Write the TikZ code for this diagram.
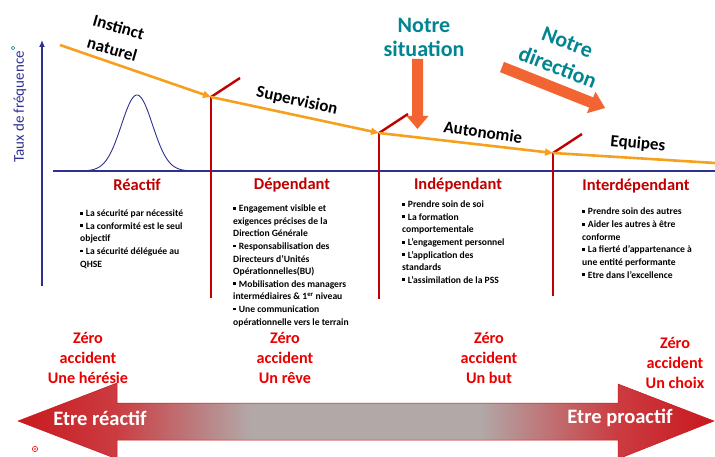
\documentclass[tikz,border=0pt]{standalone}
\usepackage{fontspec}
\setmainfont{Carlito}
\usetikzlibrary{arrows.meta}
\definecolor{axblue}{RGB}{46,49,146}
\definecolor{lineorange}{RGB}{247,160,30}
\definecolor{darkred}{RGB}{192,0,0}
\definecolor{zred}{RGB}{235,0,0}
\definecolor{teal2}{RGB}{0,133,145}
\definecolor{blockorange}{RGB}{242,101,50}
\definecolor{arrred}{RGB}{200,25,30}
\definecolor{arrred2}{RGB}{203,60,65}
\definecolor{argrey}{RGB}{178,168,168}
\pgfdeclarehorizontalshading{bigarrow}{100bp}{color(0bp)=(arrred); color(25bp)=(arrred); color(32bp)=(arrred2); color(41.7bp)=(argrey); color(58.2bp)=(argrey); color(68bp)=(arrred2); color(75bp)=(arrred); color(100bp)=(arrred)}
\newcommand{\sqb}{\rule[0.2em]{0.3em}{0.3em}\hspace{0.3em}}
\tikzset{
  curve/.style={draw=lineorange, line width=2.6pt},
  curvearrow/.style={curve, -{Triangle[length=8pt,width=7pt]}},
  redline/.style={draw=darkred, line width=2.4pt},
  stagelabel/.style={font=\fontsize{17}{23}\selectfont\bfseries, text=black, inner sep=0pt, align=center},
  heading/.style={font=\fontsize{16.5}{20}\selectfont\bfseries, text=darkred, inner sep=0pt},
  bullets/.style={font=\fontsize{9.6}{12.6}\selectfont\bfseries, text=black, align=left, inner sep=0pt, anchor=base west},
  zero/.style={font=\fontsize{16.2}{20}\selectfont\bfseries, text=zred, align=center, inner sep=0pt},
  notre/.style={font=\fontsize{22}{25}\selectfont\bfseries, text=teal2, align=center, inner sep=0pt},
  blockarrow/.style={fill=blockorange, draw=none},
  endtext/.style={font=\fontsize{20.5}{24}\selectfont\bfseries, text=white, inner sep=0pt}
}
\begin{document}
\begin{tikzpicture}[x=1pt,y=-1pt]
\useasboundingbox[fill=white] (0,0) rectangle (715,457);

% axes
\coordinate (yb) at (42,286);
\coordinate (yt) at (42,40);
\coordinate (xl) at (53,171);
\coordinate (xr) at (715,171);
\draw[axblue, line width=1.8pt, -{Latex[length=7pt,width=6pt]}] (yb) -- (yt);
\draw[axblue, line width=1.8pt] (xl) -- (xr);
\node[font=\fontsize{15}{16}\selectfont, text=axblue, rotate=90, inner sep=0pt] (ylab) at (20,107) {Taux de fréquence};
\draw[teal2, line width=0.6pt] (13,48) circle (1.8);

% bell curve
\draw[axblue, line width=0.9pt] plot[domain=78:196, samples=90, smooth] (\x, {171-76*exp(-((\x-137)/22)*((\x-137)/22))});

% orange trajectory
\coordinate (o0) at (60,45);
\coordinate (o1) at (211,97);
\coordinate (o2) at (379,133);
\coordinate (o3) at (553,153);
\coordinate (o4) at (715,163);
\coordinate (b1) at (211,298);
\coordinate (b2) at (379,299);
\coordinate (b3) at (553,296);
\coordinate (t1) at (240,78);
\coordinate (t2) at (408,114);
\coordinate (t3) at (582,134);
\draw[redline] (o1) -- (b1);
\draw[redline] (o2) -- (b2);
\draw[redline] (o3) -- (b3);
\draw[redline] (o1) -- (t1);
\draw[redline] (o2) -- (t2);
\draw[redline] (o3) -- (t3);
\draw[curvearrow] (o0) -- (o1);
\draw[curvearrow] (o1) -- (o2);
\draw[curvearrow] (o2) -- (o3);
\draw[curve] (o3) -- (o4);

\node[stagelabel, rotate=-16] (inst) at (115.5,38) {Instinct\\naturel};
\node[stagelabel, rotate=-12] (sup) at (297,101) {Supervision};
\node[stagelabel, rotate=-8] (aut) at (483,132) {Autonomie};
\node[stagelabel, rotate=-5] (equ) at (638,144) {Equipes};

% Notre situation
\node[notre] (sit) at (424,37) {Notre\\[-1pt]situation};
\fill[blockarrow] (412,59) -- (423,59) -- (423,116) -- (428.5,116) -- (417.5,129) -- (406.5,116) -- (412,116) -- cycle;

% Notre direction
\node[notre, font=\fontsize{22}{27}\selectfont\bfseries, rotate=-21] (dir) at (562.5,55) {Notre\\direction};
\begin{scope}[shift={(502,67)}, rotate=-21.7]
\fill[blockarrow] (0,-5.5) -- (96,-5.5) -- (96,-11.5) -- (111,0) -- (96,11.5) -- (96,5.5) -- (0,5.5) -- cycle;
\end{scope}

% headings
\node[heading] (h1) at (137,185) {Réactif};
\node[heading] (h2) at (292,185) {Dépendant};
\node[heading] (h3) at (458,185) {Indépendant};
\node[heading] (h4) at (636,186) {Interdépendant};

% bullet lists (anchored at the baseline of their last line)
\node[bullets] (l1) at (80,267) {\sqb La sécurité par nécessité\\ \sqb La conformité est le seul\\objectif\\ \sqb La sécurité déléguée au\\QHSE};
\node[bullets] (l2) at (233,325) {\sqb Engagement visible et\\exigences précises de la\\Direction Générale\\ \sqb Responsabilisation des\\Directeurs d’Unités\\Opérationnelles(BU)\\ \sqb Mobilisation des managers\\intermédiaires \& 1\textsuperscript{er} niveau\\ \sqb Une communication\\opérationnelle vers le terrain};
\node[bullets] (l3) at (402,283.3) {\sqb Prendre soin de soi\\ \sqb La formation\\comportementale\\ \sqb L’engagement personnel\\ \sqb L’application des\\standards\\ \sqb L’assimilation de la PSS};
\node[bullets] (l4) at (582,278) {\sqb Prendre soin des autres\\ \sqb Aider les autres à être\\conforme\\ \sqb La fierté d’appartenance à\\une entité performante\\ \sqb Etre dans l’excellence};

% zero accident
\node[zero] (z1) at (88,358) {Zéro\\accident\\Une hérésie};
\node[zero] (z2) at (285,358) {Zéro\\accident\\Un rêve};
\node[zero] (z3) at (489,358) {Zéro\\accident\\Un but};
\node[zero] (z4) at (675,363) {Zéro\\accident\\Un choix};

% big double arrow
\path[shading=bigarrow, draw=arrred, line width=0.5pt] (18,421) -- (117,383) -- (117,403) -- (618,403) -- (618,384) -- (714,421) -- (618,459) -- (618,440) -- (117,440) -- (117,459) -- cycle;
\node[endtext] (er) at (100,418) {Etre réactif};
\node[endtext] (ep) at (620,418) {Etre proactif};

\draw[zred, line width=0.6pt] (35,449) circle (2.6);
\fill[zred] (35,449) circle (0.9);
\end{tikzpicture}
\end{document}
